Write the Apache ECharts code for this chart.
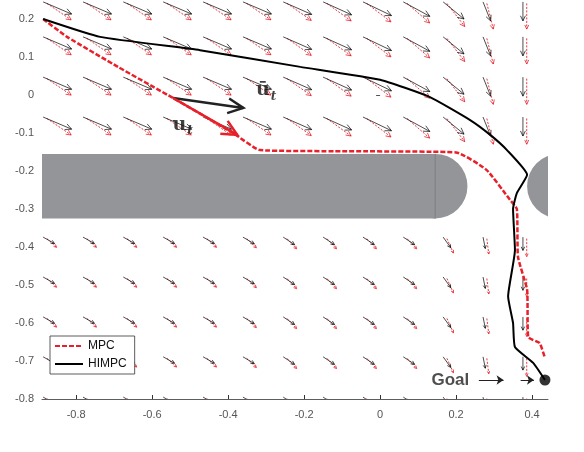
<!DOCTYPE html>
<html><head><meta charset="utf-8">
<script src="https://cdn.jsdelivr.net/npm/echarts@6/dist/echarts.min.js"></script>
<style>html,body{margin:0;padding:0;background:#fff}#c{width:584px;height:452px}</style>
</head><body><div id="c"></div>
<script>
// Trajectories [x, y]
const himpc = [[-0.887,0.2],[-0.737,0.153],[-0.474,0.118],[-0.21,0.074],[0,0.04],[0.13,-0.005],[0.237,-0.066],[0.29,-0.105],[0.334,-0.145],[0.387,-0.21],[0.36,-0.258],[0.35,-0.30],[0.355,-0.408],[0.337,-0.53],[0.35,-0.60],[0.355,-0.663],[0.403,-0.705],[0.434,-0.75]];
const mpc = [[-0.887,0.2],[-0.824,0.153],[-0.69,0.074],[-0.545,-0.008],[-0.387,-0.1],[-0.316,-0.145],[-0.1,-0.148],[0.2,-0.151],[0.28,-0.197],[0.342,-0.276],[0.36,-0.30],[0.363,-0.426],[0.387,-0.513],[0.39,-0.637],[0.42,-0.653],[0.434,-0.692]];
// Quiver grid
const quiverX = [-0.887,-0.782,-0.676,-0.571,-0.466,-0.361,-0.255,-0.150,-0.045,0.061,0.166,0.271,0.376];
const quiverYUpper = [0.245,0.153,0.047,-0.058];
const quiverYLower = [-0.374,-0.479,-0.584,-0.689,-0.795];
const upperU = [0.075,0.075,0.075,0.075,0.075,0.075,0.075,0.075,0.075,0.07,0.055,0.02,0];
const upperV = [-0.032,-0.032,-0.032,-0.032,-0.032,-0.032,-0.033,-0.034,-0.036,-0.038,-0.045,-0.05,-0.05];
const lowerU = [0.03,0.03,0.03,0.03,0.03,0.03,0.03,0.03,0.03,0.03,0.02,0.006,0];
const lowerV = [-0.017,-0.017,-0.017,-0.017,-0.017,-0.018,-0.02,-0.02,-0.02,-0.02,-0.028,-0.03,-0.035];
// Obstacles [x0, x1, yTop, yBottom]; circles [cx, cy, r]
const obstacleRect = [-0.95,0.145,-0.155,-0.325];
const obstacleCircles = [[0.145,-0.24,0.085],[0.472,-0.24,0.085]];
// Control annotations [x0,y0,x1,y1]
const uBar = [-0.545,-0.008,-0.36,-0.034];
const uT = [-0.545,-0.008,-0.376,-0.105];
const goal = [0.434,-0.75];
const xTicks = [-0.8,-0.6,-0.4,-0.2,0,0.2,0.4];
const yTicks = [0.2,0.1,0,-0.1,-0.2,-0.3,-0.4,-0.5,-0.6,-0.7,-0.8];

const quiverData = [];
quiverYUpper.forEach(y=>quiverX.forEach((x,i)=>quiverData.push([x,y,upperU[i],upperV[i]])));
quiverYLower.forEach(y=>quiverX.forEach((x,i)=>quiverData.push([x,y,lowerU[i],lowerV[i]])));

function head(s,e,len,color,w){
  const dx=e[0]-s[0],dy=e[1]-s[1],L=Math.hypot(dx,dy)||1,ux=dx/L,uy=dy/L;
  const a=0.45, c=Math.cos(a), sn=Math.sin(a);
  const p1=[e[0]-len*(ux*c-uy*sn), e[1]-len*(uy*c+ux*sn)];
  const p2=[e[0]-len*(ux*c+uy*sn), e[1]-len*(uy*c-ux*sn)];
  return {type:'polyline',shape:{points:[p1,e,p2]},style:{stroke:color,lineWidth:w,fill:null,lineJoin:'miter'}};
}
const fmt = v=>Math.abs(v)<1e-9?'0':(+v.toFixed(1)).toString();
const chart = echarts.init(document.getElementById('c'));
chart.setOption({
  animation:false,
  grid:{left:42,right:36,top:0,bottom:53},
  xAxis:{type:'value',min:-0.89,max:0.442,
    axisLine:{show:true,onZero:false,lineStyle:{color:'#333',width:0.8}},
    axisTick:{show:true,inside:true,length:4,customValues:xTicks,lineStyle:{color:'#333'}},
    splitLine:{show:false},
    axisLabel:{color:'#555',fontSize:11,fontFamily:'Liberation Sans',customValues:xTicks,formatter:fmt,margin:10}},
  yAxis:{type:'value',min:-0.8,max:0.25,
    axisLine:{show:false},splitLine:{show:false},
    axisTick:{show:true,length:4,customValues:[0],lineStyle:{color:'#555'}},
    axisLabel:{color:'#555',fontSize:11,fontFamily:'Liberation Sans',customValues:yTicks,formatter:fmt}},
  legend:{orient:'vertical',left:50,top:336,itemWidth:28,itemHeight:10,itemGap:6,
    padding:[4,8,4,4],borderColor:'#333',borderWidth:0.8,backgroundColor:'#fff',
    itemStyle:{opacity:0},
    textStyle:{fontSize:12,fontFamily:'Liberation Sans',color:'#111'},
    data:['MPC','HIMPC']},
  series:[
    {type:'custom',name:'obstacle',silent:true,clip:true,z:1,data:[0],
     renderItem:(p,api)=>{
       const tl=api.coord([obstacleRect[0],obstacleRect[2]]),br=api.coord([obstacleRect[1],obstacleRect[3]]);
       const ch=[{type:'rect',shape:{x:tl[0],y:tl[1],width:br[0]-tl[0],height:br[1]-tl[1]},style:{fill:'#939598'}}];
       obstacleCircles.forEach(c=>{const cc=api.coord([c[0],c[1]]);const r=api.size([c[2],0])[0];
         ch.push({type:'circle',shape:{cx:cc[0],cy:cc[1],r:r},style:{fill:'#939598'}});});
       ch.push({type:'line',shape:{x1:br[0],y1:tl[1],x2:br[0],y2:br[1]},style:{stroke:'#7d7f82',lineWidth:1}});
       return {type:'group',children:ch};
     }},
    {type:'custom',name:'quiver',silent:true,clip:true,z:2,data:quiverData,
     renderItem:(p,api)=>{
       const x=api.value(0),y=api.value(1),u=api.value(2),v=api.value(3);
       const s=api.coord([x,y]),e=api.coord([x+u,y+v]);
       const s2=api.coord([x+0.01,y-0.004]),e2=api.coord([x+u*0.85+0.01,y+v*1.35-0.004]);
       const L=Math.hypot(e[0]-s[0],e[1]-s[1]);
       const hl=Math.min(7,L*0.3);
       return {type:'group',children:[
         {type:'line',shape:{x1:s2[0],y1:s2[1],x2:e2[0],y2:e2[1]},style:{stroke:'#e8202a',lineWidth:0.9,lineDash:[2,1.5]}},
         head(s2,e2,hl*0.8,'#e8202a',0.8),
         {type:'line',shape:{x1:s[0],y1:s[1],x2:e[0],y2:e[1]},style:{stroke:'#000',lineWidth:0.7}},
         head(s,e,hl,'#000',0.7)
       ]};
     }},
    {type:'line',name:'HIMPC',data:himpc,smooth:0.15,symbol:'none',z:5,lineStyle:{color:'#000',width:2},itemStyle:{color:'#000'}},
    {type:'line',name:'MPC',data:mpc,smooth:0.15,symbol:'none',z:4,lineStyle:{color:'#e8202a',width:2.5,type:[5,2]},itemStyle:{color:'#e8202a'}},
    {type:'custom',name:'controls',silent:true,z:6,data:[uBar,uT],
     renderItem:(p,api)=>{
       const s=api.coord([api.value(0),api.value(1)]),e=api.coord([api.value(2),api.value(3)]);
       const col=p.dataIndex===0?'#222':'#e8202a';
       return {type:'group',children:[
         {type:'line',shape:{x1:s[0],y1:s[1],x2:e[0],y2:e[1]},style:{stroke:col,lineWidth:2.5}},
         head(s,e,17,col,2.5)]};
     }},
    {type:'scatter',name:'labels',silent:true,z:7,symbolSize:0,
     data:[{value:[-0.3,0.012],label:{formatter:'ū{s|t}'}},{value:[-0.52,-0.078],label:{formatter:'u{s|t}'}},
       {value:[0.185,-0.75],label:{formatter:'Goal',fontFamily:'Liberation Sans',fontSize:17,fontWeight:'bold',color:'#222'}}],
     label:{show:true,position:'inside',fontFamily:'DejaVu Serif',fontWeight:'bold',fontSize:19,color:'#111',
       rich:{s:{fontSize:12,fontStyle:'italic',fontFamily:'DejaVu Serif',padding:[12,0,0,1]}}}},
    {type:'lines',name:'goalArrow',coordinateSystem:'cartesian2d',silent:true,z:7,
     symbol:['none','arrow'],symbolSize:7,lineStyle:{color:'#222',width:1,opacity:1},
     data:[{coords:[[0.26,-0.75],[0.325,-0.75]]},{coords:[[0.37,-0.75],[0.405,-0.75]]}]},
    {type:'scatter',name:'goal',silent:true,z:8,data:[[goal[0]+0.012,goal[1]]],symbolSize:9,
     itemStyle:{color:'#fff',borderColor:'#000',borderWidth:1}},
    {type:'scatter',name:'goal2',silent:true,z:9,data:[goal],symbolSize:11,itemStyle:{color:'#000'}}
  ]
});
</script></body></html>
